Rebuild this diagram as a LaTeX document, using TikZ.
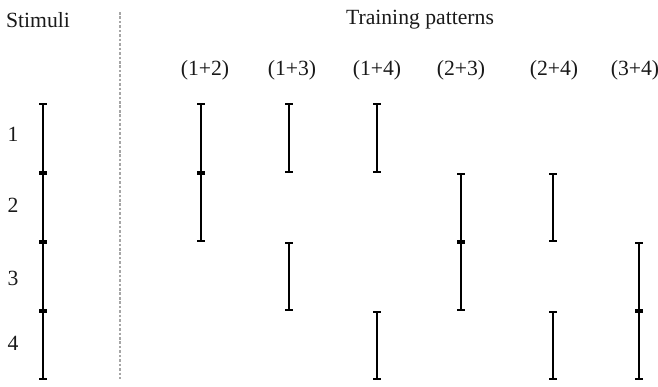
\documentclass[tikz,border=0pt]{standalone}
\usepackage{fontspec}
\setmainfont{Liberation Serif}
\usetikzlibrary{arrows.meta}

\tikzset{
  seg/.style={line width=2pt, {Bar[width=6.5pt,line width=1.5pt]}-{Bar[width=6.5pt,line width=1.5pt]}},
  lbl/.style={font=\fontsize{18.5}{22}\selectfont, inner sep=0pt, text=black!90},
  sep/.style={gray!70, line width=0.9pt, dash pattern=on 2.2pt off 1.6pt},
}

\begin{document}
\begin{tikzpicture}[x=0.03cm, y=-0.03cm]
  \useasboundingbox (0,0) rectangle (658,387);
  % headings
  \node[lbl] (stimuli) at (38,20) {Stimuli};
  \node[lbl] (training) at (420,20) {Training patterns};
  \coordinate (septop) at (120,12);
  \coordinate (sepbot) at (120,379);
  \draw[sep] (septop) -- (sepbot);
  % row labels
  \foreach \n/\y in {1/134,2/205,3/278,4/343}
    \node[lbl] (row\n) at (13,\y) {\n};
  % stimulus column, one piece per stimulus
  \foreach \a in {1,...,4} {
    \pgfmathsetmacro\ya{{103,173,242,311,380}[\a-1]}
    \pgfmathsetmacro\yb{{103,173,242,311,380}[\a]}
    \draw[seg] (43,\ya) -- (43,\yb);
  }
  % training patterns
  \foreach \x/\lx/\a/\b in {201/205/1/2, 289/292/1/3, 377/377/1/4, 461/461/2/3, 553/554/2/4, 639/635/3/4} {
    \node[lbl] (pat\a\b) at (\lx,70) {(\a+\b)};
    \foreach \s in {\a,\b} {
      \pgfmathsetmacro\ya{{103,173,242,311,380}[\s-1]}
      \pgfmathsetmacro\yb{{103,173,242,311,380}[\s]}
      \draw[seg] (\x,\ya) -- (\x,\yb);
    }
  }
\end{tikzpicture}
\end{document}
